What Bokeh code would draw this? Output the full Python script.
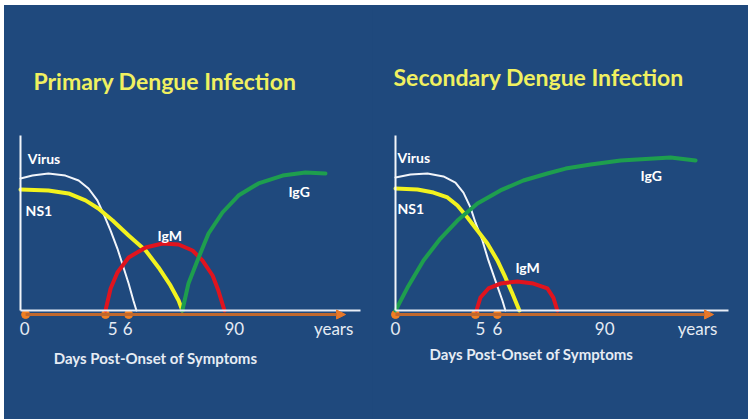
from bokeh.plotting import figure
from bokeh.models import Arrow, NormalHead, FixedTicker, Range1d, ColumnDataSource, Spacer
from bokeh.layouts import row, column
from bokeh.core.properties import value
from bokeh.embed import file_html
from bokeh.resources import INLINE

BG = "#1F497D"
FONT = "Lato"

TICK_LABELS = ["0", "5", "6", "90", "years"]
CURVE_NAMES = ["Virus", "NS1", "IgM", "IgG"]
X_LABEL = "Days Post-Onset of Symptoms"

# ---------- Primary infection (x: relative time 0-100, y: level 0-100) ----------
prim_virus_x = [0, 3.5, 8.2, 13.2, 17.1, 20.0, 22.6, 24.4, 26.5, 28.5, 30.3, 31.8, 33.2, 34.1]
prim_virus_y = [75.4, 77.1, 78.3, 77.1, 74.3, 69.7, 62.9, 55.4, 45.7, 35.4, 24.6, 15.4, 5.7, 0]
prim_ns1_x = [0, 8.2, 14.1, 19.1, 22.9, 27.1, 31.8, 36.8, 40.6, 44.1, 46.5, 47.6]
prim_ns1_y = [69.1, 68.6, 66.9, 62.9, 58.3, 51.4, 42.9, 34.3, 24.6, 14.3, 5.7, 0]
prim_igm_x = [25.0, 26.5, 28.5, 31.8, 36.8, 41.8, 46.5, 50.6, 53.5, 56.5, 58.2, 60.0]
prim_igm_y = [0, 12.6, 21.7, 30.3, 36.0, 38.3, 37.7, 34.3, 28.6, 20.0, 11.4, 0]
prim_igg_x = [47.6, 49.4, 52.4, 55.3, 59.4, 64.1, 70.0, 77.1, 83.8, 89.7]
prim_igg_y = [0, 15.4, 30.3, 44.0, 56.0, 65.7, 72.6, 77.1, 78.9, 78.3]
prim_label_x = [2.1, 1.5, 40.3, 78.8]
prim_label_y = [86.9, 57.1, 42.9, 68.0]
prim_tick_x = [1.2, 27.1, 31.5, 62.9, 92.1]
prim_dot_x = [1.5, 25.0, 31.8]
prim_arrow_end = 95.6
prim_x_range = (-4.71, 103.53)
prim_title_pos = (3.8, 131.4)
prim_xlabel_pos = (39.7, -27.4)

# ---------- Secondary infection ----------
sec_virus_x = [0, 4.5, 9.6, 14.4, 18.0, 20.4, 22.5, 24.0, 26.1, 27.9, 30.0, 32.1, 33.0]
sec_virus_y = [76.0, 77.7, 78.3, 76.6, 73.1, 67.4, 58.9, 50.3, 40.0, 28.6, 17.1, 5.7, 0]
sec_ns1_x = [0, 6.6, 11.4, 15.6, 18.6, 21.6, 24.6, 27.6, 30.6, 33.0, 35.1, 37.2]
sec_ns1_y = [69.7, 69.1, 67.4, 64.6, 60.0, 53.1, 45.7, 38.3, 28.6, 18.9, 9.7, 0]
sec_igm_x = [24.3, 25.5, 27.9, 31.5, 36.6, 41.4, 45.6, 47.4, 48.6]
sec_igm_y = [0, 7.4, 12.6, 15.4, 16.6, 15.4, 12.6, 7.4, 0]
sec_igg_x = [0, 3.6, 8.4, 13.5, 18.6, 24.6, 31.5, 38.4, 45.6, 51.1, 58.6, 67.6, 82.6, 90.1]
sec_igg_y = [0, 13.1, 28.6, 41.1, 51.4, 61.1, 68.6, 74.3, 78.3, 81.1, 83.4, 85.7, 87.4, 85.7]
sec_label_x = [0.6, 0.6, 36.0, 73.6]
sec_label_y = [87.4, 58.3, 24.6, 77.1]
sec_tick_x = [0.0, 25.5, 30.6, 62.8, 90.7]
sec_dot_x = [0, 24.0, 30.6]
sec_arrow_end = 95.5
sec_x_range = (-6.91, 106.0)
sec_title_pos = (-0.6, 133.7)
sec_xlabel_pos = (40.8, -24.6)

Y_RANGE = (-62.29, 174.29)
ORANGE_Y = -2.3


def make_panel(width, x_range, title, title_pos, curves, lab_x, lab_y,
               tick_x, dot_x, arrow_end, xlab_pos):
    p = figure(width=width, height=414, x_range=Range1d(*x_range), y_range=Range1d(*Y_RANGE),
               output_backend="svg", toolbar_location=None,
               min_border_left=0, min_border_right=0, min_border_top=0, min_border_bottom=0,
               background_fill_color=BG, border_fill_color=BG, outline_line_color=None)
    p.grid.visible = False
    p.styles = {"background-color": BG}

    ya = p.yaxis[0]
    ya.fixed_location = 0
    ya.ticker = FixedTicker(ticks=[])
    ya.axis_line_color = "#F2F5FA"
    ya.axis_line_width = 2
    ya.bounds = (0, 100)
    ya.major_tick_line_color = None
    ya.minor_tick_line_color = None
    ya.major_label_text_font_size = "0px"

    xa = p.xaxis[0]
    xa.fixed_location = 0
    xa.bounds = (0, 100)
    xa.ticker = FixedTicker(ticks=tick_x)
    xa.major_label_overrides = {t: s for t, s in zip(tick_x, TICK_LABELS)}
    xa.axis_line_color = "#E8EEF8"
    xa.axis_line_width = 2
    xa.major_tick_line_color = None
    xa.minor_tick_line_color = None
    xa.major_tick_in = 0
    xa.major_tick_out = 0
    xa.major_label_standoff = 8
    xa.major_label_text_font = FONT
    xa.major_label_text_font_size = "17px"
    xa.major_label_text_color = "#E6ECF4"

    p.add_layout(Arrow(end=NormalHead(size=9, fill_color="#E8782A", line_color="#E8782A"),
                       x_start=dot_x[0], y_start=ORANGE_Y, x_end=arrow_end, y_end=ORANGE_Y,
                       line_color="#C0682E", line_width=3))
    p.scatter(dot_x, [ORANGE_Y] * len(dot_x), size=8, color="#F07F22")

    colors = ["#F2F5FA", "#F2F21E", "#E0141E", "#1E9E4E"]
    widths = [2, 4, 4, 4]
    for (cx, cy), c, w in zip(curves, colors, widths):
        p.line(cx, cy, line_color=c, line_width=w, line_cap="round", line_join="round")

    src = ColumnDataSource(dict(x=lab_x, y=lab_y, t=CURVE_NAMES))
    p.text(x="x", y="y", text="t", source=src, text_font=value(FONT), text_font_style="bold",
           text_font_size="14px", text_color="white", text_baseline="middle", text_align="left")

    p.text(x=[title_pos[0]], y=[title_pos[1]], text=[title], text_font=value(FONT),
           text_font_style="bold", text_font_size="23px", text_color="#F0F060",
           text_baseline="middle", text_align="left")
    p.text(x=[xlab_pos[0]], y=[xlab_pos[1]], text=[X_LABEL], text_font=value(FONT),
           text_font_style="bold", text_font_size="15px", text_color="#E6ECF4",
           text_baseline="middle", text_align="center")
    return p


p1 = make_panel(368, prim_x_range, "Primary Dengue Infection", prim_title_pos,
                [(prim_virus_x, prim_virus_y), (prim_ns1_x, prim_ns1_y),
                 (prim_igm_x, prim_igm_y), (prim_igg_x, prim_igg_y)],
                prim_label_x, prim_label_y, prim_tick_x, prim_dot_x, prim_arrow_end,
                prim_xlabel_pos)
p2 = make_panel(376, sec_x_range, "Secondary Dengue Infection", sec_title_pos,
                [(sec_virus_x, sec_virus_y), (sec_ns1_x, sec_ns1_y),
                 (sec_igm_x, sec_igm_y), (sec_igg_x, sec_igg_y)],
                sec_label_x, sec_label_y, sec_tick_x, sec_dot_x, sec_arrow_end,
                sec_xlabel_pos)

panels = row(p1, p2, styles={"background-color": BG})
layout = column(Spacer(height=5), row(Spacer(width=4), panels))
open("out.html", "w").write(file_html(layout, INLINE))
